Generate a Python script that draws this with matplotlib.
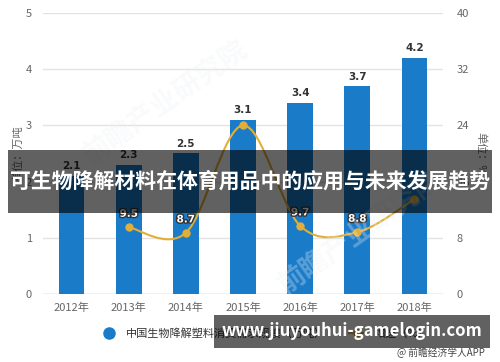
import matplotlib
matplotlib.use("Agg")
import matplotlib.pyplot as plt
import matplotlib.patches as mp
import matplotlib.patheffects as pe
from matplotlib.path import Path
from matplotlib.lines import Line2D
import numpy as np

plt.rcParams["font.family"] = ["Noto Sans CJK SC", "DejaVu Sans"]

# data
years = ["2012年", "2013年", "2014年", "2015年", "2016年", "2017年", "2018年"]
demand = [2.1, 2.3, 2.5, 3.1, 3.4, 3.7, 4.2]
growth_years = ["2013年", "2014年", "2015年", "2016年", "2017年", "2018年"]
growth = [9.5, 8.7, 24.0, 9.7, 8.8, 13.5]
# labels hidden in the reference are left empty
growth_labels = ["9.5", "8.7", "", "9.7", "8.8", ""]

bar_color = "#1a7bc8"
line_color = "#e3ae35"

fig = plt.figure(figsize=(5, 3.62), dpi=100)
ax = fig.add_axes([0.086, 0.188, 0.8, 0.776])
ax2 = ax.twinx()

x = np.arange(len(years))
ax.bar(x, demand, width=0.45, color=bar_color, zorder=2)
for xi, v in zip(x, demand):
    ax.text(xi, v + 0.08, f"{v}", ha="center", va="bottom", fontsize=7.5,
            fontweight="bold", color="#333333", family="DejaVu Sans")

ax.set_xlim(-0.5, len(years) - 0.5)
ax.set_ylim(0, 5)
ax.set_yticks(range(0, 6))
ax.set_xticks(x)
ax.set_xticklabels(years)
ax2.set_ylim(0, 40)
ax2.set_yticks(range(0, 41, 8))

ax.grid(axis="y", color="#e3e3e3", linewidth=1, zorder=0)
ax.set_axisbelow(True)
for a in (ax, ax2):
    for s in ("top", "left", "right", "bottom"):
        a.spines[s].set_visible(False)
    a.tick_params(length=0, labelsize=8, colors="#666666")
ax.axhline(0, color="#cccccc", linewidth=1, zorder=1)
ax.tick_params(axis="x", pad=6)
ax.tick_params(axis="y", pad=8)
ax2.tick_params(axis="y", pad=10)

ax.set_ylabel("单位：万吨", fontsize=8, color="#666666", labelpad=2)
ax2.set_ylabel("单位：%", fontsize=8, color="#666666", rotation=-90, labelpad=12)

# smooth growth line (catmull-rom through the points)
gx = np.array([years.index(y) for y in growth_years], dtype=float)
gy = np.array(growth, dtype=float)
verts = [(gx[0], gy[0])]
codes = [Path.MOVETO]
for i in range(len(gx) - 1):
    p0 = (gx[i - 1], gy[i - 1]) if i > 0 else (gx[i], gy[i])
    p1 = (gx[i], gy[i])
    p2 = (gx[i + 1], gy[i + 1])
    p3 = (gx[i + 2], gy[i + 2]) if i + 2 < len(gx) else p2
    c1 = (p1[0] + (p2[0] - p0[0]) / 6, p1[1] + (p2[1] - p0[1]) / 6)
    c2 = (p2[0] - (p3[0] - p1[0]) / 6, p2[1] - (p3[1] - p1[1]) / 6)
    verts += [c1, c2, p2]
    codes += [Path.CURVE4] * 3
ax2.add_patch(mp.PathPatch(Path(verts, codes), facecolor="none",
                           edgecolor=line_color, linewidth=1.5, zorder=3))
ax2.plot(gx, gy, "o", color=line_color, markersize=5, zorder=4)
for xi, v, lab in zip(gx, gy, growth_labels):
    if not lab:
        continue
    t = ax2.text(xi, v + 1.2, lab, ha="center", va="bottom", fontsize=7.5,
                 fontweight="bold", color="white", family="DejaVu Sans", zorder=5)
    t.set_path_effects([pe.withStroke(linewidth=2, foreground="#333333")])

# faint watermarks
for wx, wy in [(0.33, 0.72), (0.72, 0.36)]:
    fig.text(wx, wy, "前瞻产业研究院", rotation=35, fontsize=20, fontweight="bold",
             color="#eef1f4", alpha=0.3, ha="center", va="center", zorder=0)

# legend
handles = [
    Line2D([], [], marker="o", linestyle="none", color=bar_color, markersize=8),
    Line2D([], [], marker="o", color=line_color, markersize=5, linewidth=1.5),
]
fig.legend(handles, ["中国生物降解塑料消费需求规模（万吨）", "增速（%）"],
           loc="center", bbox_to_anchor=(0.53, 1 - 333 / 362), ncol=2,
           frameon=False, fontsize=8, handlelength=1.5, columnspacing=2,
           labelcolor="#333333")
fig.text(0.97, 1 - 353 / 362, "@ 前瞻经济学人APP", ha="right", va="center",
         fontsize=7, color="#444444")

# overlay banners
fig.patches.append(mp.Rectangle((0.016, 1 - 213 / 362), 0.968, 63 / 362,
                                transform=fig.transFigure, facecolor="black",
                                alpha=0.62, zorder=10))
fig.text(0.5, 1 - 181 / 362, "可生物降解材料在体育用品中的应用与未来发展趋势",
         ha="center", va="center", fontsize=15, fontweight="bold",
         color="white", zorder=11)
fig.patches.append(mp.Rectangle((0.428, 1 - 348 / 362), 0.552, 33 / 362,
                                transform=fig.transFigure, facecolor="black",
                                alpha=0.62, zorder=10))
fig.text(0.704, 1 - 331 / 362, "www.jiuyouhui-gamelogin.com", ha="center",
         va="center", fontsize=12, fontweight="bold", color="white", zorder=11)

fig.savefig("out.png", dpi=100)
